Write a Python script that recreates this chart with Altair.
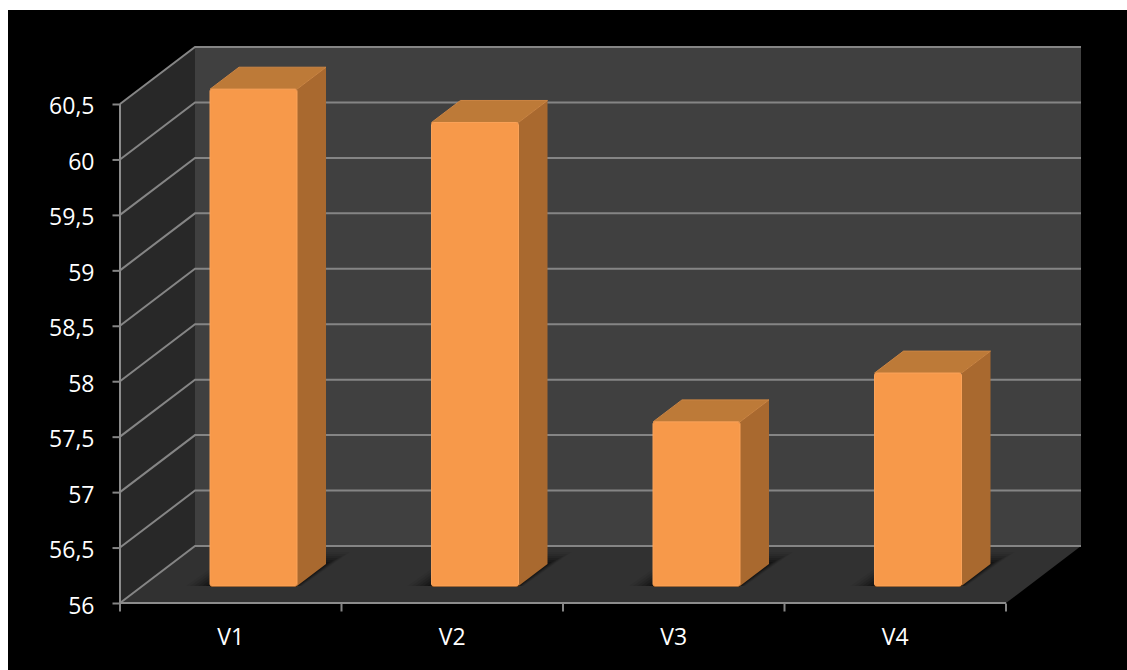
import altair as alt
import pandas as pd

# Chart values
CATEGORIES = ["V1", "V2", "V3", "V4"]
VALUES = [60.48, 60.18, 57.48, 57.92]
Y_TICKS = [56, 56.5, 57, 57.5, 58, 58.5, 59, 59.5, 60, 60.5]

# Oblique projection, expressed in scale units
X_PER_CAT = 221.5
Y_PER_UNIT = 110.9
WALL_DX, WALL_DY = 75 / X_PER_CAT, 57 / Y_PER_UNIT
BAR_DX, BAR_DY = 29 / X_PER_CAT, 22 / Y_PER_UNIT
FLOOR_DX, FLOOR_DY = 90 / X_PER_CAT, 17 / Y_PER_UNIT
BAR_W = 87 / X_PER_CAT
N = len(CATEGORIES)
Y0 = 56
Y_TOP = 60.5

X_DOMAIN = [0, N + WALL_DX]
Y_DOMAIN = [Y0, Y_TOP + WALL_DY]
PLOT_W, PLOT_H = 961, 556

GRID = "#858585"
FRONT = "#F7994A"
FRONT_EDGE = "#FAA258"
SIDE = "#A9692F"
TOP = "#BD7A38"
TOP_EDGE = "#CC8543"
BASE_EDGE = "#4A2A0C"

xs = alt.Scale(domain=X_DOMAIN, nice=False, zero=False)
ys = alt.Scale(domain=Y_DOMAIN, nice=False, zero=False)

x_axis = alt.Axis(
    values=list(range(N + 1)),
    domain=False,
    grid=False,
    zindex=2,
    tickColor=GRID,
    tickWidth=2,
    tickSize=8,
    tickRound=False,
    tickOffset=-0.5,
    labelColor="#FFFFFF",
    labelFont="Open Sans",
    labelFontSize=23,
    labelPadding=15,
    labelOffset=X_PER_CAT / 2,
    labelOverlap=False,
    labelFlush=False,
    labelBound=False,
    labelExpr="[" + ",".join(f"'{c}'" for c in CATEGORIES) + ",''][datum.value]",
)
y_axis = alt.Axis(
    values=Y_TICKS,
    domain=False,
    grid=False,
    zindex=2,
    tickColor=GRID,
    tickWidth=2,
    tickSize=8,
    tickRound=False,
    labelColor="#FFFFFF",
    labelFont="Open Sans",
    labelFontSize=23,
    labelPadding=18,
    labelOffset=3,
    labelOverlap=False,
    labelBound=False,
    labelFlush=False,
    format=".1~f",
    labelExpr="replace(datum.label, '.', ',')",
)

X = lambda f: alt.X(f, type="quantitative", scale=xs, axis=x_axis, title=None)
Y = lambda f: alt.Y(f, type="quantitative", scale=ys, axis=y_axis, title=None)


def vface(rows, color, **kw):
    """Parallelograms with vertical ends: one row per end, id / x / lo / hi."""
    data = pd.DataFrame(rows, columns=["id", "x", "lo", "hi"])
    return alt.Chart(data).mark_area(color=color, orient="vertical", **kw).encode(
        x=X("x"), y=Y("hi"), y2=alt.Y2("lo"), detail="id:N"
    )


def hface(rows, color, **kw):
    """Parallelograms with horizontal ends: one row per end, id / y / lo / hi."""
    data = pd.DataFrame(rows, columns=["id", "y", "lo", "hi"])
    return alt.Chart(data).mark_area(color=color, orient="horizontal", **kw).encode(
        y=Y("y"), x=X("lo"), x2=alt.X2("hi"), detail="id:N"
    )


# Backdrop and the three walls of the box
backdrop = alt.Chart(pd.DataFrame({"a": [0]})).mark_rect(color="#000000").encode(
    x=alt.value(-112), x2=alt.value(1007), y=alt.value(-37), y2=alt.value(623)
)
back_wall = vface(
    [(0, WALL_DX, Y0 + WALL_DY, Y_TOP + WALL_DY), (0, N + WALL_DX, Y0 + WALL_DY, Y_TOP + WALL_DY)],
    "#404040",
)
left_wall = vface(
    [(0, 0, Y0, Y_TOP), (0, WALL_DX, Y0 + WALL_DY, Y_TOP + WALL_DY)],
    "#282828",
)
floor = hface(
    [(0, Y0, 0, N), (0, Y0 + WALL_DY, WALL_DX, N + WALL_DX)],
    "#313131",
)

# Grid lines run up the left wall and then across the back wall
grid_rows = []
for t in Y_TICKS:
    grid_rows += [
        (t, 0, t, 0),
        (t, WALL_DX, t + WALL_DY, 1),
        (t, N + WALL_DX, t + WALL_DY, 2),
    ]
grid = alt.Chart(pd.DataFrame(grid_rows, columns=["tick", "x", "y", "o"])).mark_line(
    color=GRID, strokeWidth=2
).encode(x=X("x"), y=Y("y"), detail="tick:N", order="o:Q")

# Axis lines along the front edge of the box
axis_rows = [("v", 0, Y0, 0), ("v", 0, Y_TOP, 1), ("h", 0, Y0, 0), ("h", N, Y0, 1)]
axis_lines = alt.Chart(pd.DataFrame(axis_rows, columns=["id", "x", "y", "o"])).mark_line(
    color="#8C8C8C", strokeWidth=2
).encode(x=X("x"), y=Y("y"), detail="id:N", order="o:Q")

# Soft contact shadow under each bar, then the three visible faces
layers = [backdrop, back_wall, left_wall, floor, grid, axis_lines]
shadow_steps = [(24, 0.06), (20, 0.08), (16, 0.10), (12, 0.13), (8, 0.17), (4, 0.22)]
for grow, alpha in shadow_steps:
    gx, gy = grow / X_PER_CAT, grow / Y_PER_UNIT * 0.5
    rows = []
    for i in range(N):
        left = i + FLOOR_DX
        base = Y0 + FLOOR_DY
        rows += [
            (i, base, left - gx, left + BAR_W + gx * 0.2),
            (i, base + BAR_DY + gy, left + BAR_DX - gx * 0.2, left + BAR_W + BAR_DX + gx),
        ]
    layers.append(hface(rows, "#000000", opacity=alpha))

side_rows, top_rows, front_rows = [], [], []
for i, v in enumerate(VALUES):
    left = i + FLOOR_DX
    right = left + BAR_W
    base = Y0 + FLOOR_DY
    top = v + FLOOR_DY
    side_rows += [(i, right, base, top), (i, right + BAR_DX, base + BAR_DY, top + BAR_DY)]
    top_rows += [(i, top, left, right), (i, top + BAR_DY, left + BAR_DX, right + BAR_DX)]
    front_rows.append({"category": CATEGORIES[i], "l": left, "r": right, "base": base, "top": top})

layers.append(vface(side_rows, SIDE))
layers.append(hface(top_rows, TOP, stroke=TOP_EDGE, strokeWidth=1))
front_df = pd.DataFrame(front_rows)
layers.append(
    alt.Chart(front_df).mark_rule(color=BASE_EDGE, strokeWidth=2).encode(
        x=X("l"), x2=alt.X2("r"), y=Y("base")
    )
)
layers.append(
    alt.Chart(front_df).mark_rect(
        color=FRONT, stroke=FRONT_EDGE, strokeWidth=1, cornerRadius=2
    ).encode(x=X("l"), x2=alt.X2("r"), y=Y("base"), y2=alt.Y2("top"))
)

chart = alt.layer(*layers).properties(
    width=PLOT_W,
    height=PLOT_H,
    background="#FFFFFF",
    padding={"left": 120, "top": 47, "right": 46, "bottom": 67},
    autosize=alt.AutoSizeParams(type="none"),
).configure_view(stroke=None)

chart.save("out.html", embed_options={"renderer": "svg", "actions": False})
